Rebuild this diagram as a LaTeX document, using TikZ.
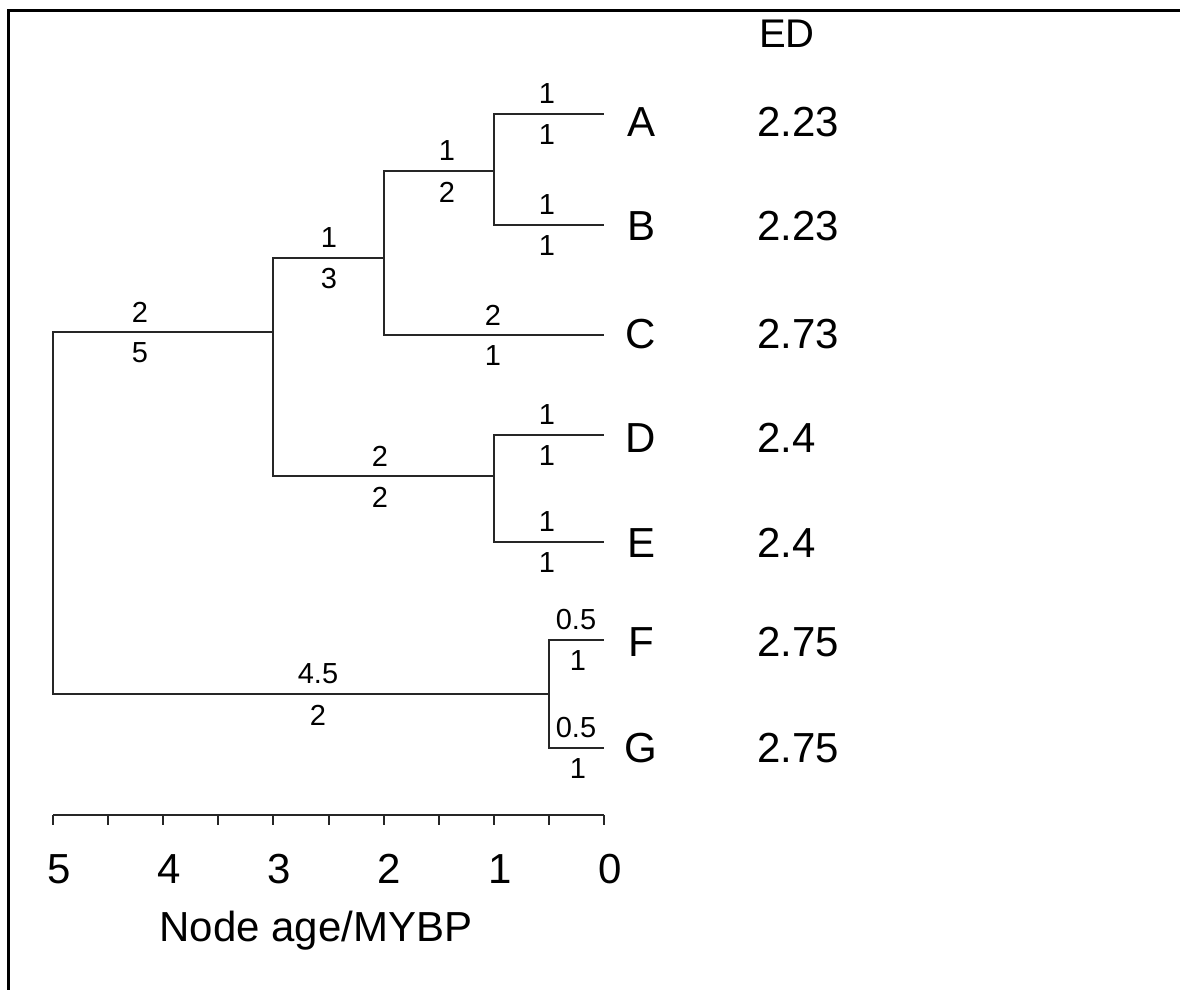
\documentclass[tikz,border=0pt]{standalone}
\usepackage{fontspec}
\setmainfont{Liberation Sans}
\usetikzlibrary{calc}
\begin{document}
\begin{tikzpicture}[x=1pt,y=-1pt,
  branch/.style={line width=2pt,color=black!85},
  lab/.style={inner sep=0pt,anchor=center,font=\fontsize{29}{33}\selectfont},
  leaf/.style={inner sep=0pt,anchor=center,font=\fontsize{42}{48}\selectfont},
  edval/.style={inner sep=0pt,anchor=west,font=\fontsize{42}{48}\selectfont},
  axlab/.style={inner sep=0pt,anchor=center,font=\fontsize{42}{48}\selectfont},
  frame/.style={line width=3pt,color=black}]
\useasboundingbox (0,0) rectangle (1180,990);
% frame (top and left)
\draw[frame] (8,990) -- (8,11) -- (1180,11);
% tree node points
\coordinate (root) at (53,513);
\coordinate (nABCDE) at (273,332);
\coordinate (nABC) at (383.6,258);
\coordinate (nAB) at (493.8,171);
\coordinate (nDE) at (493.8,476);
\coordinate (nFG) at (549,694);
\coordinate (A) at (604,114);
\coordinate (B) at (604,225);
\coordinate (C) at (604,335);
\coordinate (D) at (604,435);
\coordinate (E) at (604,542);
\coordinate (F) at (604,640);
\coordinate (G) at (604,748);
% branches
\draw[branch] (root) |- (nABCDE);
\draw[branch] (root) |- (nFG);
\draw[branch] (nABCDE) |- (nABC);
\draw[branch] (nABCDE) |- (nDE);
\draw[branch] (nABC) |- (nAB);
\draw[branch] (nABC) |- (C);
\draw[branch] (nAB) |- (A);
\draw[branch] (nAB) |- (B);
\draw[branch] (nDE) |- (D);
\draw[branch] (nDE) |- (E);
\draw[branch] (nFG) |- (F);
\draw[branch] (nFG) |- (G);
% branch labels
\node[lab] (l1a) at (140,312) {2};   \node[lab] (l1b) at (140,353) {5};
\node[lab] (l2a) at (318,674) {4.5}; \node[lab] (l2b) at (318,715) {2};
\node[lab] (l3a) at (329,238) {1};   \node[lab] (l3b) at (329,279) {3};
\node[lab] (l4a) at (447,151) {1};   \node[lab] (l4b) at (447,192) {2};
\node[lab] (l5a) at (547,94) {1};    \node[lab] (l5b) at (547,135) {1};
\node[lab] (l6a) at (547,205) {1};   \node[lab] (l6b) at (547,246) {1};
\node[lab] (l7a) at (493,315) {2};   \node[lab] (l7b) at (493,356) {1};
\node[lab] (l8a) at (380,456) {2};   \node[lab] (l8b) at (380,497) {2};
\node[lab] (l9a) at (547,415) {1};   \node[lab] (l9b) at (547,456) {1};
\node[lab] (l10a) at (547,522) {1};  \node[lab] (l10b) at (547,563) {1};
\node[lab] (l11a) at (576,620) {0.5};\node[lab] (l11b) at (578,661) {1};
\node[lab] (l12a) at (576,728) {0.5};\node[lab] (l12b) at (578,769) {1};
% leaf names
\node[leaf] (tA) at (641,122) {A};
\node[leaf] (tB) at (641,226) {B};
\node[leaf] (tC) at (641,334) {C};
\node[leaf] (tD) at (641,438) {D};
\node[leaf] (tE) at (641,543) {E};
\node[leaf] (tF) at (641,642) {F};
\node[leaf] (tG) at (641,748) {G};
% ED values
\node[inner sep=0pt,anchor=west,font=\fontsize{40}{46}\selectfont] (ED) at (759,34) {ED};
\node[edval] (eA) at (757,122) {2.23};
\node[edval] (eB) at (757,226) {2.23};
\node[edval] (eC) at (757,334) {2.73};
\node[edval] (eD) at (757,438) {2.4};
\node[edval] (eE) at (757,543) {2.4};
\node[edval] (eF) at (757,642) {2.75};
\node[edval] (eG) at (757,748) {2.75};
% axis
\coordinate (ax5) at (53,815);
\coordinate (ax0) at (604,815);
\draw[branch] (ax5) -- (ax0);
\foreach \i in {0,...,10} {
  \draw[branch] ($(ax5)!\i/10!(ax0)$) -- ++(0,10);
}
\foreach \v [count=\k from 0] in {5,4,3,2,1,0} {
  \node[axlab] (t\v) at ($(ax5)!\k/5!(ax0)+(6,54)$) {\v};
}
\node[axlab] (axtitle) at (316,931) {Node age/MYBP};
\end{tikzpicture}
\end{document}
